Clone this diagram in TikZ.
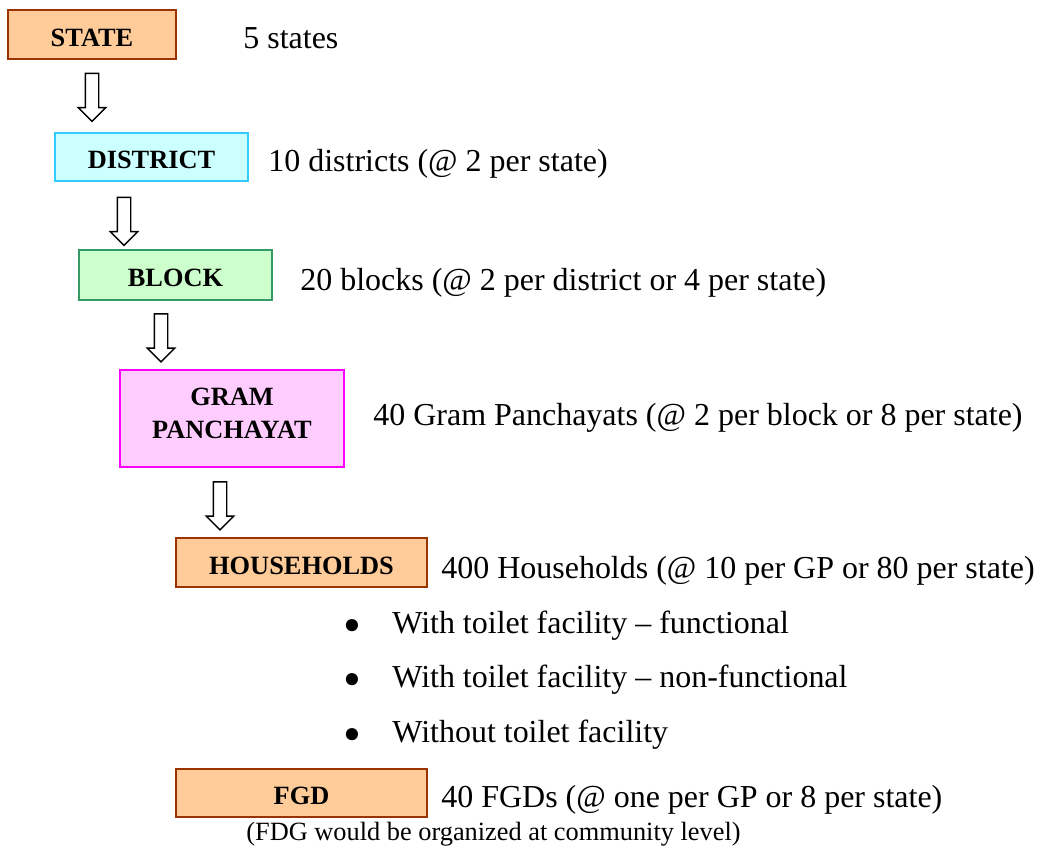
\documentclass[tikz,border=0pt]{standalone}
\usepackage{fontspec}
\setmainfont{Liberation Serif}
\usetikzlibrary{shapes.arrows}

\newlength\px
\setlength\px{0.02cm}

\definecolor{peach}{HTML}{FFCC99}
\definecolor{rust}{HTML}{993300}
\definecolor{icecyan}{HTML}{CCFFFF}
\definecolor{skycyan}{HTML}{33CCFF}
\definecolor{mint}{HTML}{CCFFCC}
\definecolor{seagreen}{HTML}{339966}
\definecolor{lilac}{HTML}{FFCCFF}
\definecolor{brightpink}{HTML}{FF00FF}

\begin{document}
\begin{tikzpicture}[x=0.02cm, y=-0.02cm,
  level/.style={draw, line width=1.1pt, inner sep=0pt, align=center, text height=23.5\px,
    font=\fontsize{15}{18.7}\selectfont\bfseries},
  info/.style={anchor=base west, inner sep=0pt, font=\fontsize{18.2}{21}\selectfont},
  note/.style={anchor=base west, inner sep=0pt, font=\fontsize{15}{17}\selectfont},
  hollow/.style={single arrow, draw, line width=0.8pt, rotate=-90, inner xsep=0pt,
    inner ysep=6\px, minimum height=48\px, minimum width=26\px,
    single arrow head extend=7\px, single arrow head indent=0pt}]
\useasboundingbox (0,0) rectangle (1040,848);

% levels
\node[level, fill=peach, draw=rust, minimum width=168\px, minimum height=49\px] (state) at (92,34.5) {STATE};
\node[level, fill=icecyan, draw=skycyan, minimum width=193\px, minimum height=48\px] (district) at (151.5,157) {DISTRICT};
\node[level, fill=mint, draw=seagreen, minimum width=193\px, minimum height=50\px] (block) at (175.5,275) {BLOCK};
\node[level, fill=lilac, draw=brightpink, minimum width=224\px, minimum height=97\px,
  text height=, text depth=10\px] (gp) at (232,418.5) {GRAM\\PANCHAYAT};
\node[level, fill=peach, draw=rust, minimum width=251\px, minimum height=49\px] (hh) at (301.5,562.5) {HOUSEHOLDS};
\node[level, fill=peach, draw=rust, minimum width=251\px, minimum height=48\px] (fgd) at (301.5,793) {FGD};

% arrows between levels
\foreach \x/\y/\n in {92/94/1, 124/218/2, 161/334.5/3, 220/502.5/4}
  \node[hollow] (arr\n) at (\x,\y) {};

% sample sizes
\node[info] (nstate) at (243,49) {5 states};
\node[info] (ndistrict) at (268,171) {10 districts (@ 2 per state)};
\node[info] (nblock) at (300,290) {20 blocks (@ 2 per district or 4 per state)};
\node[info] (ngp) at (373,425) {40 Gram Panchayats (@ 2 per block or 8 per state)};
\node[info] (nhh) at (441,578) {400 Households (@ 10 per GP or 80 per state)};

\foreach \y/\t [count=\i] in {633/With toilet facility -- functional,
    687/With toilet facility -- non-functional, 742/Without toilet facility} {
  \node[info, font=\fontsize{29}{30}\selectfont] (dot\i) at (343,\y+9) {\textbullet};
  \node[info] (type\i) at (392,\y) {\t};
}

\node[info] (nfgd) at (441,807) {40 FGDs (@ one per GP or 8 per state)};
\node[note] (remark) at (246,840) {(FDG would be organized at community level)};

\end{tikzpicture}
\end{document}
